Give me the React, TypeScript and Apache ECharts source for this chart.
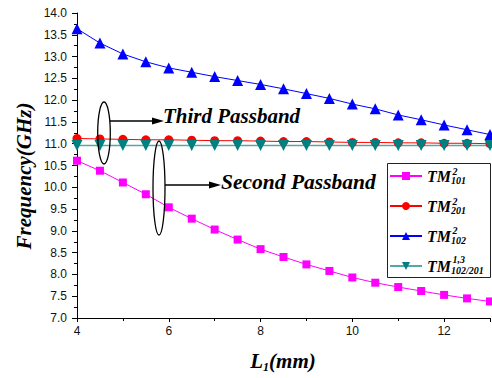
import React, { useEffect, useRef } from "react";
import * as echarts from "echarts";

const xValues = [4, 4.5, 5, 5.5, 6, 6.5, 7, 7.5, 8, 8.5, 9, 9.5, 10, 10.5, 11, 11.5, 12, 12.5, 13];
const tm101 = [10.61, 10.38, 10.11, 9.84, 9.54, 9.28, 9.03, 8.8, 8.58, 8.4, 8.23, 8.08, 7.93, 7.81, 7.71, 7.62, 7.53, 7.45, 7.38];
const tm201 = [11.12, 11.11, 11.1, 11.09, 11.09, 11.08, 11.07, 11.07, 11.06, 11.05, 11.05, 11.04, 11.03, 11.03, 11.02, 11.02, 11.01, 11.01, 11.0];
const tm102 = [13.64, 13.31, 13.06, 12.88, 12.74, 12.64, 12.54, 12.45, 12.36, 12.26, 12.15, 12.04, 11.91, 11.8, 11.66, 11.55, 11.43, 11.32, 11.21];
const tm13 = [10.96, 10.96, 10.96, 10.96, 10.96, 10.96, 10.96, 10.96, 10.96, 10.96, 10.96, 10.96, 10.96, 10.96, 10.96, 10.96, 10.96, 10.96, 10.96];

const seriesNames = ["TM101", "TM201", "TM102", "TM102/201"];
const seriesSups = ["2", "2", "2", "1,3"];
const seriesSubs = ["101", "201", "102", "102/201"];
const yTickLabels = ["7.0", "7.5", "8.0", "8.5", "9.0", "9.5", "10.0", "10.5", "11.0", "11.5", "12.0", "12.5", "13.0", "13.5", "14.0"];

const serif = "Liberation Serif";
const sans = "Liberation Sans";

function pairs(ys: number[]) {
  return xValues.map((x, i) => [x, ys[i]]);
}

export default function App() {
  const ref = useRef<HTMLDivElement>(null);
  useEffect(() => {
    document.body.style.margin = "0";
    const chart = echarts.init(ref.current!, null, { renderer: "svg" });
    const textBI = { fontFamily: serif, fontWeight: "bold", fontStyle: "italic", fill: "#000" } as any;
    const supY = [171, 201, 230, 259];
    chart.setOption({
      animation: false,
      backgroundColor: "#fff",
      grid: { left: 77, right: 2, top: 13, bottom: 60, outerBoundsMode: "none" },
      xAxis: {
        type: "value",
        min: 4,
        max: 13,
        interval: 2,
        axisLine: { show: true, onZero: false, lineStyle: { color: "#000", width: 1 } },
        axisTick: { show: true, inside: false, length: 4, lineStyle: { color: "#000" } },
        minorTick: { show: true, splitNumber: 2, length: 3, lineStyle: { color: "#000" } },
        splitLine: { show: false },
        axisLabel: { fontFamily: sans, fontSize: 12, color: "#111", margin: 7, showMaxLabel: false },
      },
      yAxis: {
        type: "value",
        min: 7,
        max: 14,
        interval: 0.5,
        axisLine: { show: true, onZero: false, lineStyle: { color: "#000", width: 1 } },
        axisTick: { show: true, inside: false, length: 5, lineStyle: { color: "#000" } },
        minorTick: { show: true, splitNumber: 2, length: 3, lineStyle: { color: "#000" } },
        splitLine: { show: false },
        axisLabel: {
          fontFamily: sans,
          fontSize: 12,
          color: "#111",
          margin: 10,
          formatter: (v: number) => yTickLabels[Math.round((v - 7) / 0.5)] ?? "",
        },
      },
      legend: {
        orient: "vertical",
        left: 389,
        top: 168,
        itemWidth: 32,
        itemHeight: 10,
        itemGap: 12.5,
        padding: 0,
        data: seriesNames,
        formatter: (name: string) => {
          const i = seriesNames.indexOf(name);
          return "{tm|TM}{sub|" + seriesSubs[i] + "}";
        },
        textStyle: {
          rich: {
            tm: { fontFamily: serif, fontWeight: "bold", fontStyle: "italic", fontSize: 16, color: "#000" },
            sub: { fontFamily: serif, fontWeight: "bold", fontStyle: "italic", fontSize: 10, color: "#000", padding: [9, 0, 0, 0] },
          },
        },
      },
      graphic: [
        { type: "rect", shape: { x: 387.5, y: 163.5, width: 103, height: 114 }, style: { fill: "none", stroke: "#222", lineWidth: 1 }, z: 100 },
        ...seriesSups.map((s, i) => ({
          type: "text",
          x: 452.5,
          y: supY[i],
          style: { ...textBI, text: s, fontSize: 10, textVerticalAlign: "middle" },
          z: 100,
        })),
        {
          type: "text",
          x: 24,
          y: 176,
          rotation: Math.PI / 2,
          style: { ...textBI, text: "Frequency(GHz)", fontSize: 21, textAlign: "center", textVerticalAlign: "middle" },
        },
        {
          type: "text",
          x: 283,
          y: 361,
          style: {
            text: "{l|L}{s|1}{l|(mm)}",
            textAlign: "center",
            textVerticalAlign: "middle",
            rich: {
              l: { fontFamily: serif, fontWeight: "bold", fontStyle: "italic", fontSize: 21, fill: "#000" },
              s: { fontFamily: serif, fontWeight: "bold", fontStyle: "italic", fontSize: 12, fill: "#000", padding: [12, 0, 0, 0] },
            },
          },
        },
        { type: "ellipse", shape: { cx: 104, cy: 133, rx: 6.3, ry: 31 }, style: { fill: "none", stroke: "#000", lineWidth: 1.3 }, z: 50 },
        { type: "line", shape: { x1: 110, y1: 121, x2: 156, y2: 121 }, style: { stroke: "#000", lineWidth: 1.3 }, z: 50 },
        { type: "polygon", shape: { points: [[164, 121], [152, 117.5], [152, 124.5]] }, style: { fill: "#000" }, z: 50 },
        { type: "text", x: 163, y: 116, style: { ...textBI, text: "Third Passband", fontSize: 21, textVerticalAlign: "middle" }, z: 50 },
        { type: "ellipse", shape: { cx: 159, cy: 188, rx: 6, ry: 47 }, style: { fill: "none", stroke: "#000", lineWidth: 1.3 }, z: 50 },
        { type: "line", shape: { x1: 165, y1: 185, x2: 212, y2: 185 }, style: { stroke: "#000", lineWidth: 1.3 }, z: 50 },
        { type: "polygon", shape: { points: [[221, 185], [209, 181.5], [209, 188.5]] }, style: { fill: "#000" }, z: 50 },
        { type: "text", x: 221, y: 182, style: { ...textBI, text: "Second Passband", fontSize: 21.5, textVerticalAlign: "middle" }, z: 50 },
      ],
      series: [
        {
          name: seriesNames[0],
          type: "line",
          data: pairs(tm101),
          symbol: "rect",
          symbolSize: 8,
          lineStyle: { color: "#ff00ff", width: 1 },
          itemStyle: { color: "#ff00ff" },
        },
        {
          name: seriesNames[1],
          type: "line",
          data: pairs(tm201),
          symbol: "circle",
          symbolSize: 9,
          lineStyle: { color: "#ff0000", width: 1 },
          itemStyle: { color: "#ff0000" },
        },
        {
          name: seriesNames[2],
          type: "line",
          data: pairs(tm102),
          symbol: "triangle",
          symbolSize: 11,
          lineStyle: { color: "#0000ff", width: 1 },
          itemStyle: { color: "#0000ff" },
        },
        {
          name: seriesNames[3],
          type: "line",
          data: pairs(tm13),
          symbol: "triangle",
          symbolRotate: 180,
          symbolSize: 11,
          lineStyle: { color: "#55a8a2", width: 1.5 },
          itemStyle: { color: "#008080" },
        },
      ],
    });
    return () => chart.dispose();
  }, []);
  return <div ref={ref} style={{ position: "absolute", left: 0, top: 0, width: 492, height: 378 }} />;
}
